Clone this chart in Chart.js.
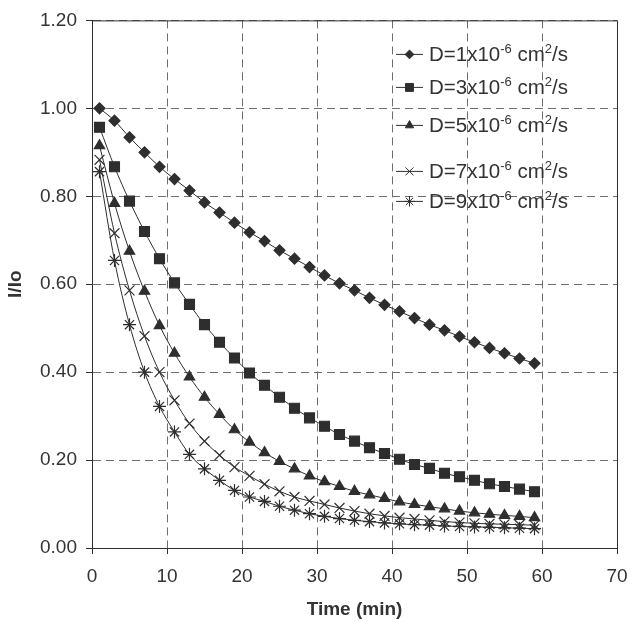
<!DOCTYPE html>
<html>
<head>
<meta charset="utf-8">
<script src="https://cdn.jsdelivr.net/npm/chart.js@4/dist/chart.umd.min.js"></script>
<style>
  html, body { margin: 0; padding: 0; background: #fff; }
  #wrap { width: 631px; height: 622px; }
</style>
</head>
<body>
<div id="wrap"><canvas id="chart" width="631" height="622"></canvas></div>
<script>
// time points (min)
const times = [1, 3, 5, 7, 9, 11, 13, 15, 17, 19, 21, 23, 25, 27, 29, 31, 33, 35, 37, 39, 41, 43, 45, 47, 49, 51, 53, 55, 57, 59]

// I/Io for each diffusion coefficient
const d1 = [1.000, 0.972, 0.934, 0.900, 0.867, 0.839, 0.813, 0.786, 0.763, 0.740, 0.718, 0.698, 0.677, 0.658, 0.639, 0.620, 0.602, 0.586, 0.569, 0.553, 0.538, 0.523, 0.508, 0.495, 0.481, 0.468, 0.455, 0.443, 0.431, 0.420]
const d3 = [0.957, 0.867, 0.789, 0.720, 0.658, 0.603, 0.554, 0.508, 0.468, 0.432, 0.398, 0.370, 0.343, 0.318, 0.296, 0.277, 0.258, 0.243, 0.228, 0.215, 0.202, 0.190, 0.181, 0.170, 0.162, 0.154, 0.146, 0.140, 0.134, 0.128]
const d5 = [0.915, 0.784, 0.675, 0.584, 0.506, 0.443, 0.389, 0.343, 0.304, 0.269, 0.241, 0.217, 0.197, 0.180, 0.164, 0.151, 0.140, 0.129, 0.121, 0.113, 0.105, 0.099, 0.094, 0.089, 0.084, 0.080, 0.077, 0.074, 0.072, 0.069]
const d7 = [0.883, 0.716, 0.586, 0.482, 0.400, 0.336, 0.283, 0.243, 0.211, 0.184, 0.164, 0.145, 0.129, 0.116, 0.107, 0.099, 0.091, 0.084, 0.078, 0.073, 0.069, 0.066, 0.063, 0.060, 0.058, 0.056, 0.055, 0.054, 0.053, 0.052]
const d9 = [0.856, 0.654, 0.508, 0.400, 0.322, 0.264, 0.213, 0.180, 0.154, 0.131, 0.116, 0.106, 0.095, 0.086, 0.078, 0.072, 0.067, 0.063, 0.060, 0.057, 0.055, 0.053, 0.052, 0.050, 0.049, 0.048, 0.047, 0.046, 0.045, 0.044]

// legend text pieces: [before superscript, sup, middle, sup, after]
const seriesLabels = [
  ["D=1x10", "-6", " cm", "2", "/s"],
  ["D=3x10", "-6", " cm", "2", "/s"],
  ["D=5x10", "-6", " cm", "2", "/s"],
  ["D=7x10", "-6", " cm", "2", "/s"],
  ["D=9x10", "-6", " cm", "2", "/s"],
]
const yTicks = [0, 0.2, 0.4, 0.6, 0.8, 1.0, 1.2]
const xTicks = [0, 10, 20, 30, 40, 50, 60, 70]

const FONT = "'Liberation Sans', Arial, Helvetica, sans-serif"
const INK = "#2e2e2e"

const styles = [
  { pointStyle: "rectRot", radius: 5.5 },
  { pointStyle: "rect", radius: 7 },
  { pointStyle: "triangle", radius: 6 },
  { pointStyle: "crossRot", radius: 7 },
  { pointStyle: "star", radius: 6.5 },
]

const datasets = [d1, d3, d5, d7, d9].map((vals, i) => ({
  label: seriesLabels[i].join(""),
  data: times.map((t, k) => ({ x: t, y: vals[k] })),
  borderColor: INK,
  backgroundColor: INK,
  borderWidth: 1,
  cubicInterpolationMode: "monotone",
  pointStyle: styles[i].pointStyle,
  pointRadius: styles[i].radius,
  pointBackgroundColor: INK,
  pointBorderColor: INK,
  pointBorderWidth: 1.2,
}))

// solid frame on top / right of the plot area
const frame = {
  id: "frame",
  afterDatasetsDraw(chart) {
    const { ctx, chartArea: a } = chart
    ctx.save()
    ctx.strokeStyle = INK
    ctx.lineWidth = 1
    ctx.beginPath()
    ctx.moveTo(a.left, a.top + 0.5)
    ctx.lineTo(a.right + 0.5, a.top + 0.5)
    ctx.lineTo(a.right + 0.5, a.bottom)
    ctx.stroke()
    ctx.restore()
  },
}

// legend drawn inside the plot, with real superscripts
const supLegend = {
  id: "supLegend",
  afterDraw(chart) {
    const { ctx, chartArea: a } = chart
    const rows = [34, 67, 105, 151, 181]
    const x0 = a.left + 304
    ctx.save()
    chart.data.datasets.forEach((ds, i) => {
      const y = a.top + rows[i]
      ctx.strokeStyle = INK
      ctx.lineWidth = 1
      ctx.beginPath()
      ctx.moveTo(x0, y)
      ctx.lineTo(x0 + 27, y)
      ctx.stroke()
      ctx.fillStyle = INK
      Chart.helpers.drawPoint(ctx, {
        pointStyle: ds.pointStyle, radius: ds.pointRadius * 0.8, rotation: 0, borderWidth: 1.2,
      }, x0 + 13.5, y)
      let x = x0 + 33
      ctx.fillStyle = "#333"
      ctx.textBaseline = "alphabetic"
      seriesLabels[i].forEach((part, k) => {
        const sup = k % 2 === 1
        ctx.font = (sup ? "13px " : "20.5px ") + FONT
        ctx.fillText(part, x, sup ? y - 1 : y + 7)
        x += ctx.measureText(part).width
      })
    })
    ctx.restore()
  },
}

new Chart(document.getElementById("chart"), {
  type: "line",
  data: { datasets },
  plugins: [frame, supLegend],
  options: {
    responsive: false,
    animation: false,
    devicePixelRatio: 1,
    layout: { padding: { top: 20, right: 14, left: 0, bottom: 0 } },
    plugins: { legend: { display: false }, tooltip: { enabled: false } },
    scales: {
      x: {
        type: "linear",
        min: xTicks[0],
        max: xTicks[xTicks.length - 1],
        afterBuildTicks: (s) => { s.ticks = xTicks.map((v) => ({ value: v })) },
        afterFit: (s) => { s.height = 74; s.paddingRight = 10; s.paddingLeft = 0 },
        grid: { color: "#6e6e6e", lineWidth: 1, tickLength: 6, tickColor: INK, tickBorderDash: [] },
        border: { color: INK, width: 1, dash: [8, 5] },
        ticks: { color: "#333", font: { family: FONT, size: 19 }, padding: 11, maxRotation: 0 },
        title: { display: true, text: "Time (min)", color: "#333", font: { family: FONT, size: 19, weight: "bold" }, padding: { top: 0, bottom: 1 } },
      },
      y: {
        type: "linear",
        min: yTicks[0],
        max: yTicks[yTicks.length - 1],
        afterBuildTicks: (s) => { s.ticks = yTicks.map((v) => ({ value: v })) },
        afterFit: (s) => { s.width = 92 },
        grid: { color: "#6e6e6e", lineWidth: 1, tickLength: 6, tickColor: INK, tickBorderDash: [] },
        border: { color: INK, width: 1, dash: [8, 5] },
        ticks: { color: "#333", font: { family: FONT, size: 19 }, padding: 9, callback: (v) => Number(v).toFixed(2) },
        title: { display: true, text: "I/Io", color: "#333", font: { family: FONT, size: 19, weight: "bold" }, padding: { top: 4, bottom: 0 } },
      },
    },
  },
})
</script>
</body>
</html>
